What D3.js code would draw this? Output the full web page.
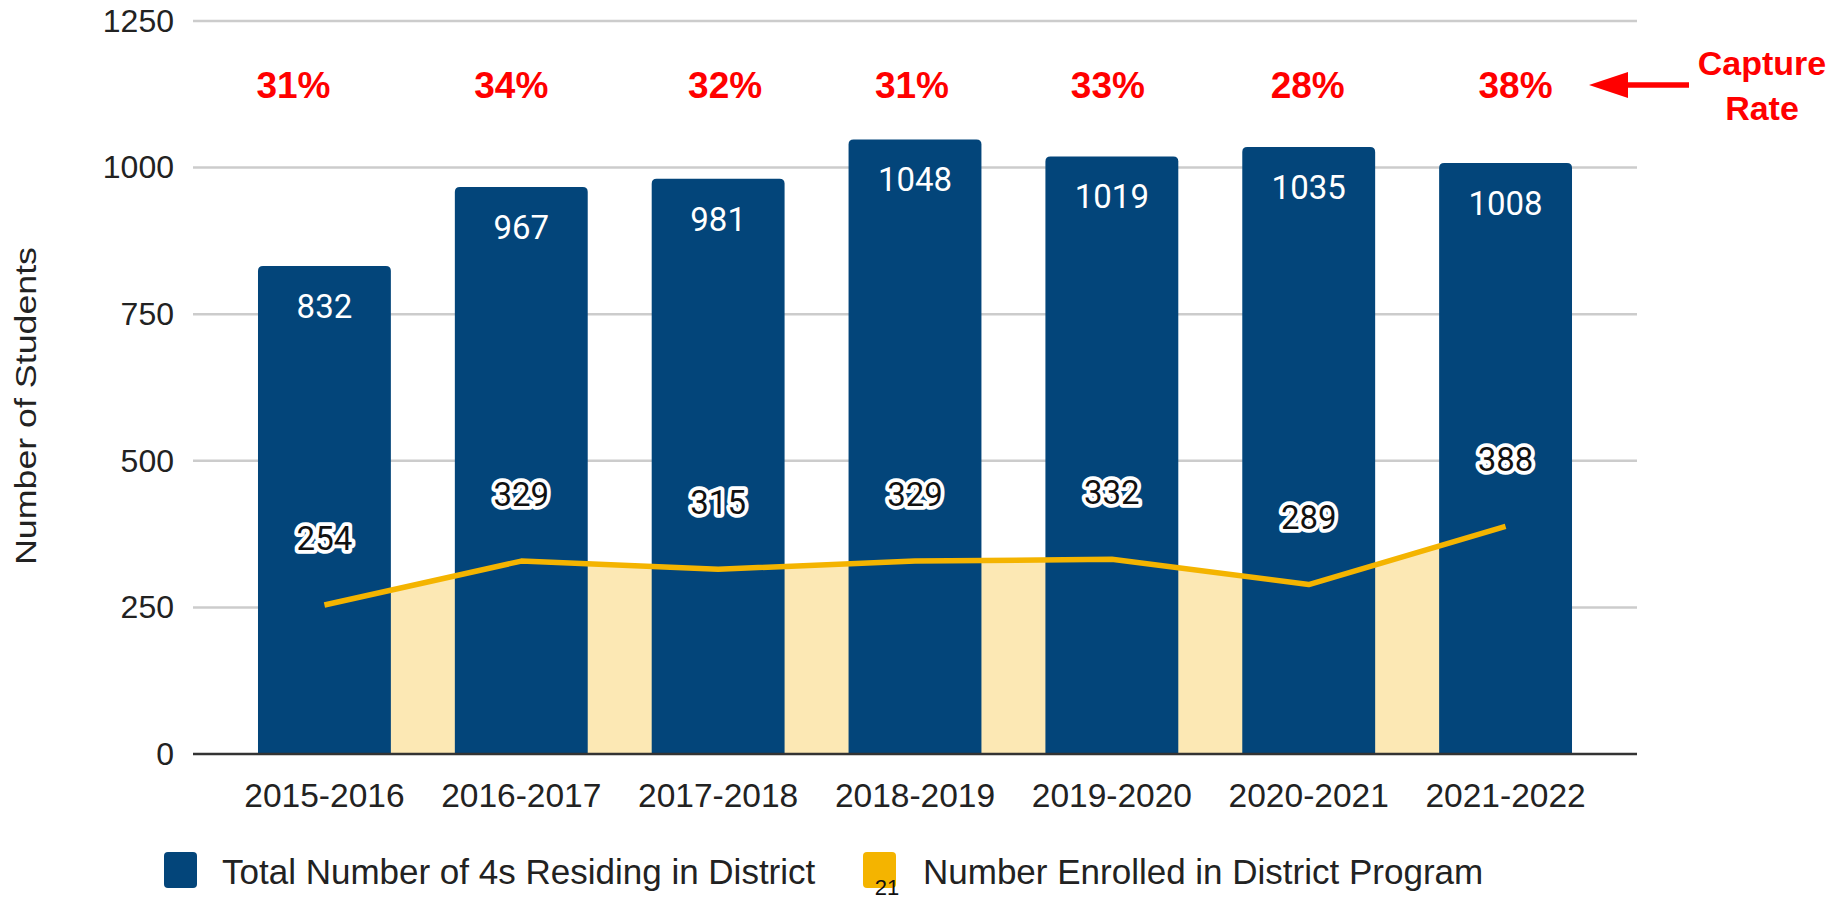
<!DOCTYPE html>
<html>
<head>
<meta charset="utf-8">
<script src="https://cdn.jsdelivr.net/npm/d3@7"></script>
<style>
  html, body { margin: 0; padding: 0; background: #ffffff; }
  svg { display: block; }
  text { font-family: "Liberation Sans", Arial, sans-serif; }
</style>
</head>
<body>
<svg id="chart" width="1833" height="900"></svg>
<script>
// ---- data ----
const categories = ["2015-2016", "2016-2017", "2017-2018", "2018-2019", "2019-2020", "2020-2021", "2021-2022"];
const totalResiding = [832, 967, 981, 1048, 1019, 1035, 1008];
const enrolled = [254, 329, 315, 329, 332, 289, 388];
const captureRate = [31, 34, 32, 31, 33, 28, 38];
const yTicks = [0, 250, 500, 750, 1000, 1250];
const seriesNames = ["Total Number of 4s Residing in District", "Number Enrolled in District Program"];

// ---- layout ----
const W = 1833, H = 900;
const plot = { left: 193, right: 1637, top: 21, bottom: 754 };
const colBar = "#03457a", colLine = "#f4b400", colArea = "#fce8b4";
// hand-placed horizontal nudges of the capture-rate annotations (px)
const pctNudge = [-31, -10, 7, -3, -4, -1, 10];

const svg = d3.select("#chart");

const x = d3.scaleBand()
  .domain(categories)
  .range([226, 1604])
  .paddingInner(0.325)
  .paddingOuter(0.1625);

const y = d3.scaleLinear().domain([0, 1250]).range([plot.bottom, plot.top]);

// gridlines
svg.append("g")
  .selectAll("line")
  .data(yTicks.filter(d => d > 0))
  .join("line")
  .attr("x1", plot.left).attr("x2", plot.right)
  .attr("y1", d => y(d)).attr("y2", d => y(d))
  .attr("stroke", "#cccccc").attr("stroke-width", 2.5);

// y axis labels
const yAxis = d3.axisLeft(y).tickValues(yTicks).tickFormat(d3.format("d")).tickSize(0).tickPadding(0);
const gy = svg.append("g").attr("transform", `translate(174,0)`).call(yAxis);
gy.select(".domain").remove();
gy.selectAll("text")
  .attr("font-size", 32)
  .attr("fill", "#222")
  .style("font-family", "'Liberation Sans', Arial, sans-serif");

// y axis title
svg.append("text")
  .attr("transform", `translate(36,406) rotate(-90)`)
  .attr("text-anchor", "middle")
  .attr("font-size", 30)
  .attr("textLength", 318)
  .attr("lengthAdjust", "spacingAndGlyphs")
  .attr("fill", "#222")
  .text("Number of Students");

// area under enrolled line (behind bars)
const cx = d => x(d) + x.bandwidth() / 2;
const pts = categories.map((c, i) => ({ c, v: enrolled[i] }));
svg.append("path")
  .datum(pts)
  .attr("fill", colArea)
  .attr("d", d3.area().x(d => cx(d.c)).y0(y(0)).y1(d => y(d.v)));

// bars with rounded top corners
function topRounded(x0, y0, w, h, r) {
  return `M${x0},${y0 + h} V${y0 + r} Q${x0},${y0} ${x0 + r},${y0} H${x0 + w - r} Q${x0 + w},${y0} ${x0 + w},${y0 + r} V${y0 + h} Z`;
}
svg.append("g")
  .selectAll("path")
  .data(categories.map((c, i) => ({ c, v: totalResiding[i] })))
  .join("path")
  .attr("fill", colBar)
  .attr("d", d => topRounded(x(d.c), y(d.v), x.bandwidth(), y(0) - y(d.v), 5));

// x axis baseline
svg.append("line")
  .attr("x1", plot.left).attr("x2", plot.right)
  .attr("y1", y(0)).attr("y2", y(0))
  .attr("stroke", "#333").attr("stroke-width", 2.5);

// x axis labels
const xAxis = d3.axisBottom(x).tickSize(0).tickPadding(0);
const gx = svg.append("g").attr("transform", `translate(0,${y(0) + 29})`).call(xAxis);
gx.select(".domain").remove();
gx.selectAll("text")
  .attr("font-size", 33.5)
  .attr("fill", "#222")
  .attr("dy", "0.71em")
  .style("font-family", "'Liberation Sans', Arial, sans-serif");

// enrolled line
svg.append("path")
  .datum(pts)
  .attr("fill", "none")
  .attr("stroke", colLine)
  .attr("stroke-width", 5.5)
  .attr("stroke-linejoin", "round")
  .attr("d", d3.line().x(d => cx(d.c)).y(d => y(d.v)));

// bar value labels
svg.append("g")
  .selectAll("text")
  .data(categories.map((c, i) => ({ c, v: totalResiding[i] })))
  .join("text")
  .attr("x", d => cx(d.c))
  .attr("y", d => y(d.v) + 40)
  .attr("dy", "0.36em")
  .attr("text-anchor", "middle")
  .attr("font-size", 33)
  .attr("fill", "#ffffff")
  .style("font-family", "Roboto, 'Liberation Sans', sans-serif")
  .text(d => d.v);

// line value labels with white halo
svg.append("g")
  .selectAll("text")
  .data(pts)
  .join("text")
  .attr("x", d => cx(d.c))
  .attr("y", d => y(d.v) - 67)
  .attr("dy", "0.36em")
  .attr("text-anchor", "middle")
  .attr("font-size", 33)
  .attr("fill", "#111")
  .attr("stroke", "#ffffff")
  .attr("stroke-width", 7.5)
  .attr("stroke-linejoin", "round")
  .attr("paint-order", "stroke")
  .style("font-family", "Roboto, 'Liberation Sans', sans-serif")
  .text(d => d.v);

// capture rate percentages
svg.append("g")
  .selectAll("text")
  .data(categories.map((c, i) => ({ c, v: captureRate[i], i })))
  .join("text")
  .attr("x", d => cx(d.c) + pctNudge[d.i])
  .attr("y", 98)
  .attr("text-anchor", "middle")
  .attr("font-size", 37)
  .attr("font-weight", "bold")
  .attr("fill", "#ff0000")
  .text(d => d.v + "%");

// Capture Rate annotation with arrow
const ann = svg.append("g").attr("fill", "#ff0000");
ann.append("text").attr("x", 1762).attr("y", 75).attr("text-anchor", "middle")
  .attr("font-size", 34).attr("font-weight", "bold").text("Capture");
ann.append("text").attr("x", 1762).attr("y", 120).attr("text-anchor", "middle")
  .attr("font-size", 34).attr("font-weight", "bold").text("Rate");
ann.append("line").attr("x1", 1625).attr("x2", 1689).attr("y1", 85).attr("y2", 85)
  .attr("stroke", "#ff0000").attr("stroke-width", 5.5);
ann.append("path").attr("d", "M1589,85 L1628,72 L1628,98 Z");

// legend
const legend = svg.append("g");
const legItems = [
  { name: seriesNames[0], color: colBar, sx: 164, tx: 222 },
  { name: seriesNames[1], color: colLine, sx: 863, tx: 923 }
];
legItems.forEach(it => {
  legend.append("rect").attr("x", it.sx).attr("y", 852).attr("width", 33).attr("height", 36)
    .attr("rx", 4).attr("fill", it.color);
  legend.append("text").attr("x", it.tx).attr("y", 871).attr("dy", "0.36em")
    .attr("font-size", 35).attr("fill", "#222").text(it.name);
});
// page number artifact
svg.append("text").attr("x", 887).attr("y", 895).attr("text-anchor", "middle")
  .attr("font-size", 22).attr("fill", "#111").text("21");
</script>
</body>
</html>
